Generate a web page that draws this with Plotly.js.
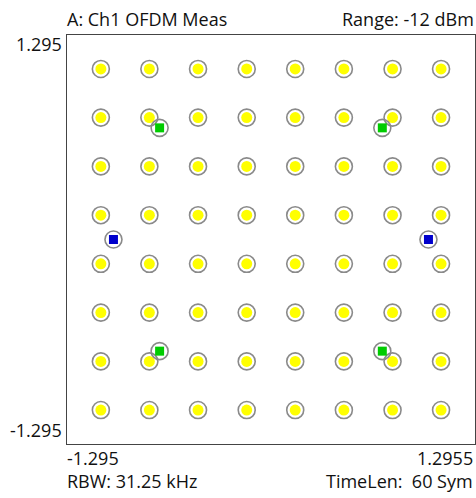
<!DOCTYPE html>
<html>
<head>
<meta charset="utf-8">
<script src="https://cdn.plot.ly/plotly-3.0.1.min.js"></script>
<style>html,body{margin:0;padding:0;background:#fff;}#chart{width:476px;height:498px;}</style>
</head>
<body>
<div id="chart"></div>
<script>
// 64-QAM data symbol levels (I and Q)
const qamLevels = [-1.080, -0.772, -0.463, -0.154, 0.154, 0.463, 0.772, 1.080];
// pilot symbols (QPSK)
const pilotI = [-0.707, 0.707, -0.707, 0.707];
const pilotQ = [0.707, 0.707, -0.707, -0.707];
// BPSK symbols
const bpskI = [-1.0, 1.0];
const bpskQ = [0.0, 0.0];
// axis range labels
const xRange = [-1.295, 1.2955];
const yRange = [-1.295, 1.295];
const xTickLabels = ["-1.295", "1.2955"];
const yTickLabels = ["1.295", "-1.295"];
const topLeftText = "A: Ch1 OFDM Meas";
const topRightText = "Range: -12 dBm";
const bottomLeftText = "RBW: 31.25 kHz";
const bottomRightText = "TimeLen:  60 Sym";

const qamI = [], qamQ = [];
for (const q of qamLevels) for (const i of qamLevels) { qamI.push(i); qamQ.push(q); }

const ringMarker = {symbol: 'circle-open', size: 17, color: '#8a8a8a', line: {width: 1.6, color: '#8a8a8a'}};
function ring(x, y) { return {x, y, type: 'scatter', mode: 'markers', marker: ringMarker, hoverinfo: 'skip', cliponaxis: false}; }
function dot(x, y, color, symbol, size) { return {x, y, type: 'scatter', mode: 'markers', marker: {symbol, size, color, line: {width: 0}}, cliponaxis: false}; }

const data = [
  ring(qamI, qamQ), dot(qamI, qamQ, '#ffff00', 'circle', 11),
  ring(pilotI, pilotQ), dot(pilotI, pilotQ, '#00cc00', 'square', 9),
  ring(bpskI, bpskQ), dot(bpskI, bpskQ, '#0000cc', 'square', 9)
];

const M = {l: 67, r: 1, t: 35, b: 54};
const H = 498, W = 476;
const plotH = H - M.t - M.b, plotW = W - M.l - M.r;
const py = p => (H - M.b - p) / plotH;   // pixel row -> paper y
const px = p => (p - M.l) / plotW;       // pixel col -> paper x

const font = {family: 'Open Sans, sans-serif', size: 18, color: '#111'};
const ann = (text, x, y, xanchor) => ({text, x: px(x), y: py(y), xref: 'paper', yref: 'paper', xanchor, yanchor: 'middle', showarrow: false, font, borderpad: 0});

const layout = {
  width: W, height: H,
  margin: M,
  paper_bgcolor: '#fff', plot_bgcolor: '#fff',
  showlegend: false,
  xaxis: {range: xRange, showgrid: false, zeroline: false, showticklabels: false, ticks: '', showline: true, mirror: true, linecolor: '#444', linewidth: 1, fixedrange: true},
  yaxis: {range: yRange, showgrid: false, zeroline: false, showticklabels: false, ticks: '', showline: true, mirror: true, linecolor: '#444', linewidth: 1, fixedrange: true},
  annotations: [
    ann(topLeftText, 66, 19, 'left'),
    ann(topRightText, 475, 19, 'right'),
    ann(yTickLabels[0], 63, 44, 'right'),
    ann(yTickLabels[1], 63, 430, 'right'),
    ann(xTickLabels[0], 66, 458, 'left'),
    ann(xTickLabels[1], 474, 458, 'right'),
    ann(bottomLeftText, 66, 481, 'left'),
    ann(bottomRightText, 474, 481, 'right')
  ]
};
Plotly.newPlot('chart', data, layout, {displayModeBar: false, staticPlot: true});
</script>
</body>
</html>
